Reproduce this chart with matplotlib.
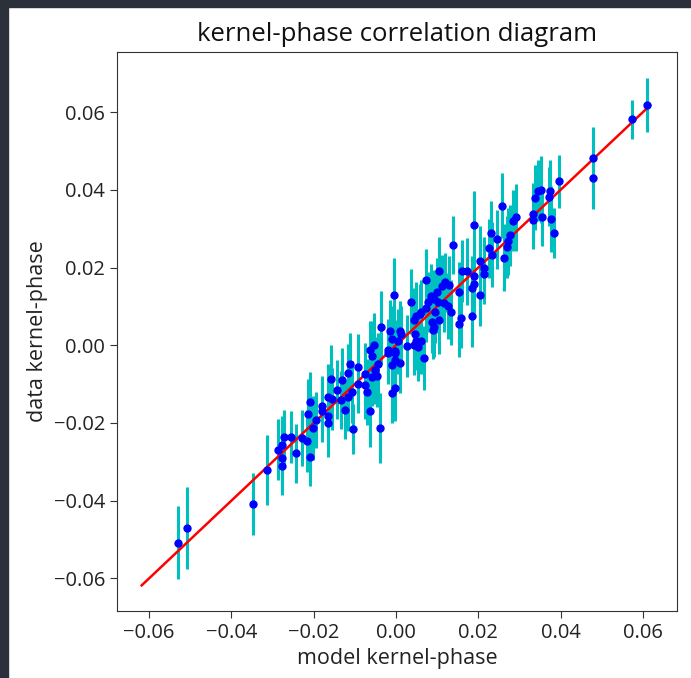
import matplotlib
matplotlib.use("Agg")
import matplotlib.pyplot as plt
from matplotlib.patches import Rectangle
import numpy as np

plt.rcParams['font.family'] = ['Open Sans', 'DejaVu Sans']

model_kp = [
    -0.0529, -0.0508, -0.0347, -0.0314, -0.0287, -0.0278, -0.0272, -0.0278, -0.0277, -0.0255,
    -0.0243, -0.0228, -0.0216, -0.0210, -0.0214, -0.0209, -0.0202, -0.0194, -0.0180, -0.0165,
    -0.0155, -0.0165, -0.0165, -0.0124, -0.0104, -0.0063, -0.0180, -0.0039, -0.0134, -0.0117,
    -0.0108, -0.0144, -0.0132, -0.0158, -0.0112, -0.0116, -0.0092, -0.0075, -0.0092, -0.0075,
    -0.0071, -0.0059, -0.0047, -0.0051, -0.0044, -0.0058, -0.0063, -0.0053, -0.0036, -0.0020,
    -0.0002, -0.0002, 0.0010, -0.0002, -0.0010, -0.0009, -0.0015, 0.0010, 0.0012, 0.0046,
    0.0062, 0.0044, 0.0026, 0.0054, 0.0069, 0.0091, -0.0004, 0.0036, 0.0072, 0.0104,
    0.0119, 0.0112, 0.0129, 0.0160, 0.0172, 0.0153, 0.0185, 0.0190, 0.0204, 0.0213,
    0.0214, 0.0262, 0.0085, 0.0093, 0.0099, 0.0103, 0.0117, 0.0126, 0.0078, 0.0072,
    0.0062, 0.0058, 0.0048, 0.0044, 0.0095, 0.0105, 0.0087, 0.0093, 0.0135, 0.0157,
    0.0153, 0.0185, 0.0005, 0.0048, -0.0002, -0.0019, -0.0009, 0.0138, 0.0205, 0.0190,
    0.0227, 0.0234, 0.0269, 0.0273, 0.0277, 0.0231, 0.0245, 0.0189, 0.0258, 0.0285,
    0.0292, 0.0332, 0.0333, 0.0338, 0.0346, 0.0353, 0.0374, 0.0372, 0.0356, 0.0376,
    0.0384, 0.0397, 0.0478, 0.0478, 0.0573, 0.0609,
]

data_kp = [
    -0.0508, -0.0471, -0.0408, -0.0321, -0.0269, -0.0257, -0.0236, -0.0290, -0.0310, -0.0236,
    -0.0278, -0.0238, -0.0246, -0.0287, -0.0177, -0.0146, -0.0213, -0.0192, -0.0156, -0.0133,
    -0.0138, -0.0182, -0.0200, -0.0166, -0.0215, -0.0169, -0.0169, -0.0212, -0.0141, -0.0133,
    -0.0120, -0.0114, -0.0090, -0.0088, -0.0047, -0.0071, -0.0057, -0.0073, -0.0099, -0.0103,
    -0.0120, -0.0081, -0.0080, -0.0064, -0.0047, -0.0028, -0.0013, 0.0000, 0.0047, -0.0020,
    -0.0021, -0.0038, -0.0045, -0.0111, -0.0124, 0.0015, 0.0037, 0.0037, 0.0028, 0.0030,
    0.0011, 0.0000, -0.0002, -0.0005, -0.0032, 0.0040, 0.0130, 0.0112, 0.0169, 0.0192,
    0.0162, 0.0152, 0.0155, 0.0192, 0.0191, 0.0137, 0.0147, 0.0158, 0.0218, 0.0198,
    0.0184, 0.0225, 0.0126, 0.0118, 0.0137, 0.0111, 0.0108, 0.0101, 0.0111, 0.0095,
    0.0087, 0.0081, 0.0076, 0.0066, 0.0085, 0.0064, 0.0059, 0.0047, 0.0085, 0.0070,
    0.0055, 0.0075, 0.0010, 0.0012, -0.0014, -0.0011, -0.0050, 0.0258, 0.0130, 0.0179,
    0.0250, 0.0233, 0.0254, 0.0268, 0.0283, 0.0289, 0.0273, 0.0310, 0.0359, 0.0321,
    0.0329, 0.0338, 0.0323, 0.0380, 0.0398, 0.0401, 0.0398, 0.0383, 0.0329, 0.0325,
    0.0289, 0.0422, 0.0483, 0.0431, 0.0582, 0.0619,
]

data_err = [
    0.0094, 0.0106, 0.0080, 0.0089, 0.0078, 0.0074, 0.0070, 0.0082, 0.0076, 0.0066,
    0.0076, 0.0072, 0.0080, 0.0074, 0.0090, 0.0076, 0.0082, 0.0072, 0.0078, 0.0084,
    0.0080, 0.0076, 0.0088, 0.0076, 0.0064, 0.0094, 0.0080, 0.0090, 0.0074, 0.0088,
    0.0080, 0.0076, 0.0084, 0.0090, 0.0078, 0.0074, 0.0086, 0.0080, 0.0076, 0.0088,
    0.0084, 0.0074, 0.0080, 0.0086, 0.0078, 0.0090, 0.0076, 0.0082, 0.0094, 0.0080,
    0.0076, 0.0088, 0.0078, 0.0084, 0.0076, 0.0086, 0.0080, 0.0078, 0.0074, 0.0086,
    0.0084, 0.0076, 0.0080, 0.0088, 0.0082, 0.0076, 0.0096, 0.0084, 0.0078, 0.0086,
    0.0076, 0.0080, 0.0074, 0.0080, 0.0086, 0.0078, 0.0084, 0.0076, 0.0088, 0.0080,
    0.0078, 0.0086, 0.0082, 0.0076, 0.0088, 0.0080, 0.0074, 0.0084, 0.0078, 0.0086,
    0.0080, 0.0076, 0.0088, 0.0082, 0.0078, 0.0086, 0.0080, 0.0076, 0.0084, 0.0078,
    0.0086, 0.0080, 0.0084, 0.0076, 0.0080, 0.0078, 0.0086, 0.0074, 0.0080, 0.0078,
    0.0076, 0.0084, 0.0080, 0.0086, 0.0078, 0.0082, 0.0076, 0.0088, 0.0084, 0.0078,
    0.0086, 0.0080, 0.0076, 0.0084, 0.0078, 0.0086, 0.0080, 0.0076, 0.0074, 0.0084,
    0.0064, 0.0068, 0.0080, 0.0080, 0.0050, 0.0070,
]

line_ends = [-0.0618, 0.0618]

fig = plt.figure(figsize=(6.91, 6.78), dpi=100)
ax = fig.add_axes([0.1693, 0.0988, 0.8104, 0.8245])

ax.errorbar(model_kp, data_kp, yerr=data_err, fmt='bo', ecolor='c',
            elinewidth=2.2, markersize=5, capsize=0)
ax.plot(line_ends, line_ends, 'r', lw=1.8)

ax.set_xlim(-0.0678, 0.0683)
ax.set_ylim(-0.0684, 0.0755)
ticks = [-0.06, -0.04, -0.02, 0.00, 0.02, 0.04, 0.06]
ax.set_xticks(ticks)
ax.set_yticks(ticks)
ax.set_xticklabels([f"{t:.2f}".replace('-', '\u2212') for t in ticks])
ax.set_yticklabels([f"{t:.2f}".replace('-', '\u2212') for t in ticks])
ax.tick_params(labelsize=14.5, length=5, color='#333333', labelcolor='#222222')
for s in ax.spines.values():
    s.set_color('#333333')

ax.set_title("kernel-phase correlation diagram", fontsize=18.5, color='#111111', pad=8)
ax.set_xlabel("model kernel-phase", fontsize=15.5, color='#222222')
ax.set_ylabel("data kernel-phase", fontsize=15.5, color='#222222')

# dark screenshot border (top and left)
border = '#2b303b'
fig.patches.append(Rectangle((0, 0), 8 / 691, 1, transform=fig.transFigure,
                             color=border, zorder=10))
fig.patches.append(Rectangle((0, 1 - 7 / 678), 1, 7 / 678, transform=fig.transFigure,
                             color=border, zorder=10))

fig.savefig("out.png", dpi=100)
